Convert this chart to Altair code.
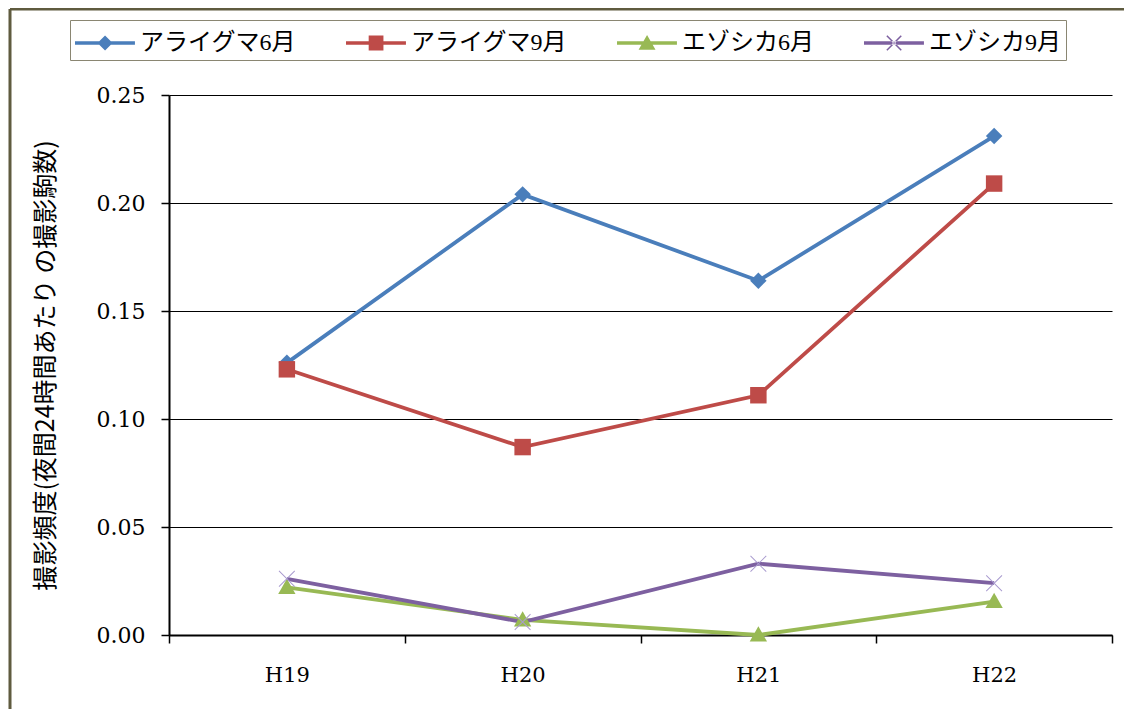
import altair as alt
import pandas as pd

years = ["H19", "H20", "H21", "H22"]
series_names = ["アライグマ6月", "アライグマ9月", "エゾシカ6月", "エゾシカ9月"]
raccoon_jun = [0.126, 0.204, 0.164, 0.231]
raccoon_sep = [0.123, 0.087, 0.111, 0.209]
deer_jun = [0.022, 0.007, 0.000, 0.0155]
deer_sep = [0.026, 0.006, 0.033, 0.024]

line_colors = ["#4A7EBB", "#BE4B48", "#98B954", "#7D60A0"]
point_colors = ["#4A7EBB", "#BE4B48", "#98B954", "#A99BCF"]
y_ticks = [0.0, 0.05, 0.10, 0.15, 0.20, 0.25]

rows = []
for name, vals in zip(series_names, [raccoon_jun, raccoon_sep, deer_jun, deer_sep]):
    for yr, v in zip(years, vals):
        rows.append({"year": yr, "value": v, "series": name})
df = pd.DataFrame(rows)

# marker paths (unit = sqrt(size)/2)
point_shapes = [
    "M0,-0.95L0.95,0L0,0.95L-0.95,0Z",
    "M-0.95,-0.95H0.95V0.95H-0.95Z",
    "M0,-1L1,0.75H-1Z",
    "M-0.95,-0.87L0.87,0.95L0.95,0.87L-0.87,-0.95Z M-0.87,0.95L0.95,-0.87L0.87,-0.95L-0.95,0.87Z",
]
ln = "M-1,-0.1H2.33V0.1H-1Z "
legend_shapes = [
    ln + "M0.67,-0.42L1.09,0L0.67,0.42L0.25,0Z",
    ln + "M0.26,-0.41H1.08V0.41H0.26Z",
    ln + "M0.67,-0.44L1.14,0.38H0.20Z",
    ln + "M0.24,-0.37L1.04,0.43L1.10,0.37L0.30,-0.43Z M0.30,0.43L1.10,-0.37L1.04,-0.43L0.24,0.37Z",
]

x_enc = alt.X(
    "year:N",
    sort=years,
    bandPosition=0.5,
    scale=alt.Scale(type="band", paddingInner=0, paddingOuter=0),
    axis=alt.Axis(
        title=None, tickBand="extent", labelAngle=0, grid=False,
        labelFont="DejaVu Serif", labelFontSize=21, labelColor="black",
        labelPadding=21, tickSize=8, tickColor="black", tickWidth=1.5,
        domainColor="black", domainWidth=2,
    ),
)
y_enc = alt.Y(
    "value:Q",
    scale=alt.Scale(domain=[0, 0.25], nice=False, zero=True),
    axis=alt.Axis(
        values=y_ticks, format=".2f",
        title="撮影頻度(夜間24時間あたり の撮影駒数)",
        titleFont="Noto Sans CJK JP", titleFontSize=25, titleFontWeight="normal",
        titleColor="black", titlePadding=38,
        labelFont="DejaVu Serif", labelFontSize=22, labelColor="black",
        labelPadding=16, tickSize=8, tickColor="black", tickWidth=1.5,
        domainColor="black", domainWidth=2,
        grid=True, gridColor="black", gridWidth=1,
    ),
)

base = alt.Chart(df)

lines = base.mark_line(strokeWidth=3.8).encode(
    x=x_enc, y=y_enc,
    color=alt.Color("series:N", sort=series_names,
                    scale=alt.Scale(domain=series_names, range=line_colors), legend=None),
    detail="series:N",
)

points = base.mark_point(filled=True, size=300, opacity=1).encode(
    x=x_enc, y=y_enc,
    color=alt.Color("series:N", sort=series_names,
                    scale=alt.Scale(domain=series_names, range=point_colors), legend=None),
    shape=alt.Shape("series:N", sort=series_names,
                    scale=alt.Scale(domain=series_names, range=point_shapes), legend=None),
)

leg = alt.Legend(
    title=None, orient="none", legendX=-99, legendY=-75, direction="horizontal",
    labelFont="Liberation Serif, Noto Sans CJK JP", labelFontSize=24, labelColor="black",
    symbolSize=1296, symbolStrokeWidth=0, symbolOpacity=1, labelOffset=29,
    columnPadding=50, padding=5, strokeColor="#8a8672", fillColor="white",
    labelLimit=400,
)

legend_layer = base.transform_filter("false").mark_point(filled=True).encode(
    x=x_enc, y=y_enc,
    color=alt.Color("series:N", sort=series_names,
                    scale=alt.Scale(domain=series_names, range=line_colors), legend=leg),
    shape=alt.Shape("series:N", sort=series_names,
                    scale=alt.Scale(domain=series_names, range=legend_shapes), legend=leg),
)

frame_data = alt.Data(values=[{"k": 1}])
frame_left = alt.Chart(frame_data).mark_rule(color="#5f5b3f", strokeWidth=3).encode(
    x=alt.value(-159), y=alt.value(-86), y2=alt.value(640)
)
frame_top = alt.Chart(frame_data).mark_rule(color="#5f5b3f", strokeWidth=3).encode(
    x=alt.value(-159), x2=alt.value(980), y=alt.value(-86)
)

chart = (
    alt.layer(frame_left, frame_top, lines, points, legend_layer)
    .resolve_scale(color="independent", shape="independent")
    .properties(
        width=943, height=540,
        autosize=alt.AutoSizeParams(type="none"),
        padding={"left": 161, "top": 87, "right": 12, "bottom": 74},
        background="white",
    )
    .configure_view(stroke=None)
)

chart.save("out.html", embed_options={"renderer": "svg", "actions": False})
